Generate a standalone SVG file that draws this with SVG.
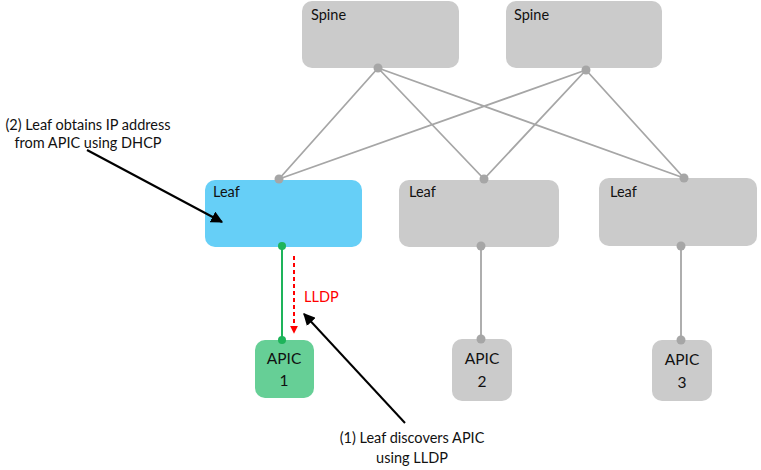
<svg xmlns="http://www.w3.org/2000/svg" width="761" height="470" viewBox="0 0 761 470">
<defs>
<style>
.t{font-family:"Lato","Open Sans","Liberation Sans",sans-serif;font-size:14.5px;fill:#111}
.a{font-size:15.5px}
.gray{fill:#cbcbcb}
.link{stroke:#a6a6a6;stroke-width:1.8;fill:none}
.dot{fill:#a6a6a6}
</style>
<marker id="ah" viewBox="0 0 10 10" refX="9" refY="5" markerWidth="6" markerHeight="6" orient="auto-start-reverse">
<path d="M0,0 L10,5 L0,10 z" fill="#000"/>
</marker>
<marker id="ahr" viewBox="0 0 10 10" refX="9" refY="5" markerWidth="4" markerHeight="4" orient="auto">
<path d="M0,0 L10,5 L0,10 z" fill="#ff0000"/>
</marker>
</defs>
<g id="spine1"><rect class="gray" x="302" y="1" width="157" height="67" rx="10"/><text class="t" x="311" y="20">Spine</text></g>
<g id="spine2"><rect class="gray" x="506" y="1" width="156" height="67" rx="10"/><text class="t" x="514" y="20">Spine</text></g>
<g id="leaf1"><rect x="205" y="180" width="157" height="67" rx="10" fill="#66cff7"/><text class="t" x="213" y="197">Leaf</text></g>
<g id="leaf2"><rect class="gray" x="399" y="180" width="160" height="67" rx="10"/><text class="t" x="409" y="197">Leaf</text></g>
<g id="leaf3"><rect class="gray" x="599" y="178" width="158" height="68" rx="10"/><text class="t" x="610" y="197">Leaf</text></g>
<g id="apic1"><rect x="255" y="340" width="59" height="58" rx="10" fill="#66cf96"/><text class="t a" x="284" y="364" text-anchor="middle">APIC</text><text class="t a" x="284" y="386" text-anchor="middle">1</text></g>
<g id="apic2"><rect class="gray" x="452" y="339" width="60" height="62" rx="10"/><text class="t a" x="482" y="364" text-anchor="middle">APIC</text><text class="t a" x="482" y="387" text-anchor="middle">2</text></g>
<g id="apic3"><rect class="gray" x="652" y="340" width="60" height="61" rx="10"/><text class="t a" x="682" y="365" text-anchor="middle">APIC</text><text class="t a" x="682" y="388" text-anchor="middle">3</text></g>
<g id="connectors">
<path class="link" d="M378,68 L279,179 M378,68 L484,179 M378,68 L684,178 M586,70 L279,179 M586,70 L484,179 M586,70 L684,178 M481,246 L481,339 M681,246 L681,340"/>
<circle class="dot" cx="378" cy="68" r="4.5"/><circle class="dot" cx="586" cy="70" r="4.5"/>
<circle class="dot" cx="279" cy="179" r="4.5"/><circle class="dot" cx="484" cy="179" r="4.5"/><circle class="dot" cx="684" cy="178" r="4.5"/>
<circle class="dot" cx="481" cy="246" r="4.5"/><circle class="dot" cx="481" cy="339" r="4.5"/>
<circle class="dot" cx="681" cy="246" r="4.5"/><circle class="dot" cx="681" cy="340" r="4.5"/>
<line x1="282" y1="246" x2="282" y2="340" stroke="#1eb45a" stroke-width="2"/>
<circle cx="282" cy="246" r="4" fill="#1eb45a"/><circle cx="282" cy="340" r="4" fill="#1eb45a"/>
<line x1="294" y1="256" x2="294" y2="333" stroke="#ff0000" stroke-width="2" stroke-dasharray="4,3" marker-end="url(#ahr)"/>
<line x1="87" y1="150" x2="222" y2="222" stroke="#000" stroke-width="2" marker-end="url(#ah)"/>
<line x1="405" y1="423" x2="304" y2="314" stroke="#000" stroke-width="2" marker-end="url(#ah)"/>
</g>
<text class="t" x="304" y="302" style="fill:#ff0000">LLDP</text>
<text class="t" x="88" y="130" text-anchor="middle">(2) Leaf obtains IP address</text>
<text class="t" x="88" y="148" text-anchor="middle">from APIC using DHCP</text>
<text class="t" x="412" y="443" text-anchor="middle">(1) Leaf discovers APIC</text>
<text class="t" x="412" y="463" text-anchor="middle">using LLDP</text>
</svg>
